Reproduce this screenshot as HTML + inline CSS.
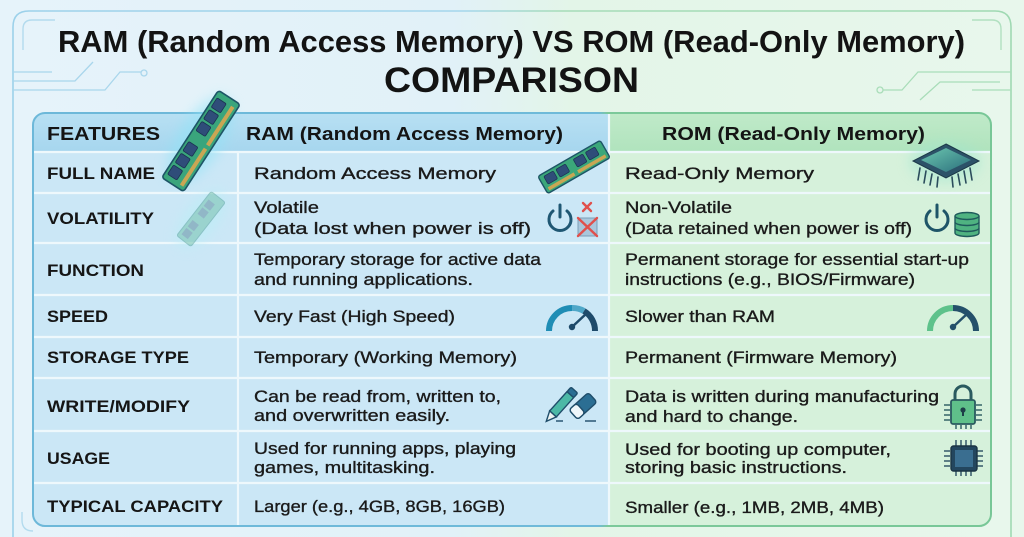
<!DOCTYPE html>
<html><head><meta charset="utf-8"><style>
html,body{margin:0;padding:0;background:#e3f2f6;width:1024px;height:537px;overflow:hidden;}
svg{display:block;}
.t{font-family:"Liberation Sans",Arial,sans-serif;}
.h{font-weight:700;fill:#131313;}
.b{font-size:17px;fill:#1a1a1a;stroke:#1a1a1a;stroke-width:0.35;}
.l{font-size:16.5px;font-weight:700;fill:#151515;}
.hd{font-size:18.5px;font-weight:700;fill:#141414;}
</style></head><body>
<svg width="1024" height="537" viewBox="0 0 1024 537" xmlns="http://www.w3.org/2000/svg" overflow="hidden">
<defs>
<linearGradient id="bg" x1="0" x2="1" y1="0" y2="0">
<stop offset="0" stop-color="#e6f3fa"/><stop offset="0.44" stop-color="#e1f1f8"/><stop offset="0.56" stop-color="#e3f5e8"/><stop offset="1" stop-color="#e8f7ec"/>
</linearGradient>
<linearGradient id="fr" x1="0" x2="1" y1="0" y2="0">
<stop offset="0" stop-color="#9cd1ea"/><stop offset="0.45" stop-color="#a4d6ec"/><stop offset="0.55" stop-color="#a6dcb8"/><stop offset="1" stop-color="#9fd9b2"/>
</linearGradient>
<linearGradient id="tb" x1="0" x2="1" y1="0" y2="0">
<stop offset="0" stop-color="#6db8d9"/><stop offset="0.59" stop-color="#6fbad9"/><stop offset="0.6" stop-color="#7cc99a"/><stop offset="1" stop-color="#78c797"/>
</linearGradient>
<linearGradient id="hb" x1="0" x2="0" y1="0" y2="1">
<stop offset="0" stop-color="#b8e0f3"/><stop offset="1" stop-color="#a6d6ee"/>
</linearGradient>
<linearGradient id="hg" x1="0" x2="0" y1="0" y2="1">
<stop offset="0" stop-color="#c0eac9"/><stop offset="1" stop-color="#b0e3bd"/>
</linearGradient>
<linearGradient id="chipg" x1="0" x2="1" y1="0" y2="1">
<stop offset="0" stop-color="#6cc7b0"/><stop offset="1" stop-color="#2b6f7c"/>
</linearGradient>
<filter id="blur" x="-50%" y="-50%" width="200%" height="200%"><feGaussianBlur stdDeviation="6"/></filter>
<clipPath id="tclip"><rect x="33" y="113" width="958" height="413" rx="12"/></clipPath>
</defs>

<!-- background -->
<rect width="1024" height="537" fill="url(#bg)"/>
<!-- outer frame -->
<path d="M13,537 V27 Q13,11 29,11 H995 Q1011,11 1011,27 V537" fill="none" stroke="url(#fr)" stroke-width="1.6"/>
<path d="M55,20 H32 Q23,20 23,29 V50" fill="none" stroke="#b3dbee" stroke-width="1.4"/>
<path d="M972,20 H992 Q1001,20 1001,29 V50" fill="none" stroke="#b1e0c0" stroke-width="1.4"/>
<path d="M22,512 V520 Q22,531 33,531" fill="none" stroke="#b3dbee" stroke-width="1.4"/>
<!-- circuit traces -->
<g fill="none" stroke="#a9d6ec" stroke-width="1.3">
<path d="M13,72 H52"/>
<path d="M13,81 H75 L93,62"/>
<path d="M13,90 H105 L120,72 H141"/>
<circle cx="144" cy="73" r="3"/>
</g>
<g fill="none" stroke="#a9ddb9" stroke-width="1.3">
<circle cx="880" cy="90" r="3"/>
<path d="M883,90 H902 L918,72 H1011"/>
<path d="M920,100 L940,82 H1000"/>
<path d="M972,90 H1011"/>
</g>

<!-- title -->
<text class="t h" x="58" y="52" font-size="31" textLength="907" lengthAdjust="spacingAndGlyphs">RAM (Random Access Memory) VS ROM (Read-Only Memory)</text>
<text class="t h" x="384" y="92" font-size="35" textLength="255" lengthAdjust="spacingAndGlyphs">COMPARISON</text>

<!-- table -->
<g clip-path="url(#tclip)">
<rect x="33" y="113" width="576" height="413" fill="#cbe7f6"/>
<rect x="609" y="113" width="382" height="413" fill="#d6f1db"/>
<rect x="33" y="113" width="576" height="39" fill="url(#hb)"/>
<rect x="609" y="113" width="382" height="39" fill="url(#hg)"/>
<g stroke="#eef8fc" stroke-width="2.2">
<line x1="33" y1="152" x2="991" y2="152"/>
<line x1="33" y1="193" x2="991" y2="193"/>
<line x1="33" y1="243" x2="991" y2="243"/>
<line x1="33" y1="295" x2="991" y2="295"/>
<line x1="33" y1="337" x2="991" y2="337"/>
<line x1="33" y1="378" x2="991" y2="378"/>
<line x1="33" y1="431" x2="991" y2="431"/>
<line x1="33" y1="483" x2="991" y2="483"/>
<line x1="238" y1="152" x2="238" y2="526"/>
<line x1="609" y1="113" x2="609" y2="526"/>
</g>
</g>
<rect x="33" y="113" width="958" height="413" rx="12" fill="none" stroke="url(#tb)" stroke-width="2"/>

<!-- header text -->
<text class="t hd" x="47" y="140" textLength="113" lengthAdjust="spacingAndGlyphs">FEATURES</text>
<text class="t hd" x="246" y="140" textLength="317" lengthAdjust="spacingAndGlyphs">RAM (Random Access Memory)</text>
<text class="t hd" x="662" y="140" textLength="263" lengthAdjust="spacingAndGlyphs">ROM (Read-Only Memory)</text>

<!-- labels -->
<g class="t l">
<text x="47" y="179" textLength="108" lengthAdjust="spacingAndGlyphs">FULL NAME</text>
<text x="47" y="224" textLength="107" lengthAdjust="spacingAndGlyphs">VOLATILITY</text>
<text x="47" y="276" textLength="97" lengthAdjust="spacingAndGlyphs">FUNCTION</text>
<text x="47" y="322" textLength="61" lengthAdjust="spacingAndGlyphs">SPEED</text>
<text x="47" y="363" textLength="142" lengthAdjust="spacingAndGlyphs">STORAGE TYPE</text>
<text x="47" y="412" textLength="143" lengthAdjust="spacingAndGlyphs">WRITE/MODIFY</text>
<text x="47" y="464" textLength="63" lengthAdjust="spacingAndGlyphs">USAGE</text>
<text x="47" y="512" textLength="176" lengthAdjust="spacingAndGlyphs">TYPICAL CAPACITY</text>
</g>

<!-- RAM column -->
<g class="t b">
<text x="254" y="179" textLength="242" lengthAdjust="spacingAndGlyphs">Random Access Memory</text>
<text x="254" y="213" textLength="65" lengthAdjust="spacingAndGlyphs">Volatile</text>
<text x="254" y="234" textLength="277" lengthAdjust="spacingAndGlyphs">(Data lost when power is off)</text>
<text x="254" y="265" textLength="287" lengthAdjust="spacingAndGlyphs">Temporary storage for active data</text>
<text x="254" y="285" textLength="219" lengthAdjust="spacingAndGlyphs">and running applications.</text>
<text x="254" y="322" textLength="201" lengthAdjust="spacingAndGlyphs">Very Fast (High Speed)</text>
<text x="254" y="363" textLength="263" lengthAdjust="spacingAndGlyphs">Temporary (Working Memory)</text>
<text x="254" y="402" textLength="247" lengthAdjust="spacingAndGlyphs">Can be read from, written to,</text>
<text x="254" y="421" textLength="196" lengthAdjust="spacingAndGlyphs">and overwritten easily.</text>
<text x="254" y="454" textLength="262" lengthAdjust="spacingAndGlyphs">Used for running apps, playing</text>
<text x="254" y="473" textLength="181" lengthAdjust="spacingAndGlyphs">games, multitasking.</text>
<text x="254" y="512" textLength="251" lengthAdjust="spacingAndGlyphs">Larger (e.g., 4GB, 8GB, 16GB)</text>
</g>

<!-- ROM column -->
<g class="t b">
<text x="625" y="179" textLength="189" lengthAdjust="spacingAndGlyphs">Read-Only Memory</text>
<text x="625" y="213" textLength="107" lengthAdjust="spacingAndGlyphs">Non-Volatile</text>
<text x="625" y="234" textLength="287" lengthAdjust="spacingAndGlyphs">(Data retained when power is off)</text>
<text x="625" y="265" textLength="344" lengthAdjust="spacingAndGlyphs">Permanent storage for essential start-up</text>
<text x="625" y="285" textLength="290" lengthAdjust="spacingAndGlyphs">instructions (e.g., BIOS/Firmware)</text>
<text x="625" y="322" textLength="150" lengthAdjust="spacingAndGlyphs">Slower than RAM</text>
<text x="625" y="363" textLength="272" lengthAdjust="spacingAndGlyphs">Permanent (Firmware Memory)</text>
<text x="625" y="402" textLength="314" lengthAdjust="spacingAndGlyphs">Data is written during manufacturing</text>
<text x="625" y="422" textLength="173" lengthAdjust="spacingAndGlyphs">and hard to change.</text>
<text x="625" y="455" textLength="266" lengthAdjust="spacingAndGlyphs">Used for booting up computer,</text>
<text x="625" y="473" textLength="222" lengthAdjust="spacingAndGlyphs">storing basic instructions.</text>
<text x="625" y="513" textLength="259" lengthAdjust="spacingAndGlyphs">Smaller (e.g., 1MB, 2MB, 4MB)</text>
</g>

<!-- Big RAM stick -->
<ellipse cx="200" cy="140" rx="22" ry="50" transform="rotate(33 200 140)" fill="#8fe3f7" opacity="0.55" filter="url(#blur)"/>
<g transform="translate(201,141) rotate(-57)">
<rect x="-52" y="-13" width="104" height="26" rx="3" fill="#3aa57c" stroke="#1d5566" stroke-width="1.6"/>
<g fill="#2f4d79" stroke="#1a3352" stroke-width="0.8">
<rect x="-46" y="-10" width="11" height="11" rx="1.5"/>
<rect x="-32" y="-10" width="11" height="11" rx="1.5"/>
<rect x="-18" y="-10" width="11" height="11" rx="1.5"/>
<rect x="6" y="-10" width="11" height="11" rx="1.5"/>
<rect x="20" y="-10" width="11" height="11" rx="1.5"/>
<rect x="34" y="-10" width="11" height="11" rx="1.5"/>
</g>
<rect x="-48" y="6" width="44" height="4" fill="#c9a654"/>
<rect x="0" y="6" width="46" height="4" fill="#c9a654"/>
</g>

<!-- small RAM stick in FULL NAME -->
<g transform="translate(574,167) rotate(-30)">
<rect x="-36" y="-10" width="72" height="20" rx="2.5" fill="#3ba77a" stroke="#1d5566" stroke-width="1.4"/>
<g fill="#2f4d79" stroke="#1a3352" stroke-width="0.7">
<rect x="-31" y="-7" width="11" height="9" rx="1.5"/>
<rect x="-17" y="-7" width="11" height="9" rx="1.5"/>
<rect x="3" y="-7" width="11" height="9" rx="1.5"/>
<rect x="17" y="-7" width="11" height="9" rx="1.5"/>
</g>
<rect x="-33" y="4.5" width="30" height="3.5" fill="#c9a654"/>
<rect x="1" y="4.5" width="32" height="3.5" fill="#c9a654"/>
</g>

<!-- faded RAM stick in VOLATILITY -->
<g transform="translate(201,219) rotate(-52)" opacity="0.6">
<ellipse rx="34" ry="16" fill="#b9eef6" filter="url(#blur)"/>
<rect x="-28" y="-9" width="56" height="18" rx="2" fill="#7ac7b4" stroke="#5ea8a3" stroke-width="1"/>
<g fill="#6b98a8">
<rect x="-24" y="-6" width="8" height="8"/><rect x="-14" y="-6" width="8" height="8"/>
<rect x="2" y="-6" width="8" height="8"/><rect x="12" y="-6" width="8" height="8"/>
</g>
</g>

<!-- power + crossed DB (RAM) -->
<g fill="none" stroke="#1f5773" stroke-width="3" stroke-linecap="round">
<path d="M553,211 A11,11 0 1 0 567,211"/>
<line x1="560" y1="205" x2="560" y2="217"/>
</g>
<rect x="578" y="218" width="19" height="18" rx="2" fill="#a9c7dc" stroke="#7c9fb8" stroke-width="1"/>
<g stroke="#e0504c" stroke-width="2.4" stroke-linecap="round">
<line x1="583" y1="203" x2="591" y2="211"/><line x1="591" y1="203" x2="583" y2="211"/>
<line x1="578" y1="218" x2="597" y2="236"/><line x1="597" y1="218" x2="578" y2="236"/>
</g>

<!-- ROM chip -->
<ellipse cx="945" cy="162" rx="36" ry="20" fill="#9fe6cf" opacity="0.5" filter="url(#blur)"/>
<g stroke="#2b4c5c" stroke-width="1.6" stroke-linecap="round">
<line x1="920" y1="168" x2="918" y2="180"/><line x1="926" y1="171" x2="924" y2="183"/><line x1="932" y1="174" x2="930" y2="185"/><line x1="938" y1="177" x2="937" y2="187"/>
<line x1="952" y1="177" x2="953" y2="187"/><line x1="958" y1="174" x2="960" y2="185"/><line x1="964" y1="171" x2="966" y2="183"/><line x1="970" y1="168" x2="972" y2="180"/>
</g>
<polygon points="946,144 979,161 946,178 913,161" fill="#2c5268" stroke="#1c3848" stroke-width="1"/>
<polygon points="946,148 971,160 946,172 921,160" fill="url(#chipg)"/>

<!-- power + green DB (ROM) -->
<g fill="none" stroke="#1f5568" stroke-width="3" stroke-linecap="round">
<path d="M930,211 A11,11 0 1 0 944,211"/>
<line x1="937" y1="205" x2="937" y2="217"/>
</g>
<g fill="#4fb381" stroke="#1f5a5c" stroke-width="1.4">
<path d="M955,228 v5 a12,3.5 0 0 0 24,0 v-5"/>
<path d="M955,222 v6 a12,3.5 0 0 0 24,0 v-6"/>
<path d="M955,216 v6 a12,3.5 0 0 0 24,0 v-6"/>
<ellipse cx="967" cy="216" rx="12" ry="3.5"/>
</g>

<!-- speedometers -->
<g fill="none" stroke-width="6">
<path d="M549,331 A23,23 0 0 1 572,308" stroke="#1f8db5"/>
<path d="M572,308 A23,23 0 0 1 584,311" stroke="#4fa7c8"/>
<path d="M584,311 A23,23 0 0 1 595,331" stroke="#1e4a6a"/>
</g>
<line x1="572" y1="327" x2="587" y2="313" stroke="#1e4a6a" stroke-width="2.5" stroke-linecap="round"/>
<circle cx="572" cy="327" r="3.2" fill="#1e4a6a"/>
<g fill="none" stroke-width="6">
<path d="M930,331 A23,23 0 0 1 953,308" stroke="#5ec28b"/>
<path d="M953,308 A23,23 0 0 1 976,331" stroke="#24506a"/>
</g>
<line x1="953" y1="327" x2="968" y2="313" stroke="#24506a" stroke-width="2.5" stroke-linecap="round"/>
<circle cx="953" cy="327" r="3.2" fill="#24506a"/>

<!-- pencil & eraser -->
<g transform="translate(561,405) rotate(-48)">
<rect x="-12" y="-4.5" width="26" height="9" fill="#4cb8a6" stroke="#1f4d6a" stroke-width="1.4"/>
<rect x="14" y="-4.5" width="6" height="9" rx="1.5" fill="#2b6e93" stroke="#1f4d6a" stroke-width="1.4"/>
<polygon points="-12,-4.5 -22,0 -12,4.5" fill="#eef4f2" stroke="#1f4d6a" stroke-width="1.4"/>
</g>
<g transform="translate(583,406) rotate(-42)">
<rect x="-13" y="-6.5" width="26" height="13" rx="3" fill="#2b6e93" stroke="#1f4d6a" stroke-width="1.4"/>
<rect x="-13" y="-6.5" width="10" height="13" rx="3" fill="#eef6fa" stroke="#1f4d6a" stroke-width="1.4"/>
</g>
<g stroke="#1f4d6a" stroke-width="1.4"><line x1="556" y1="421" x2="563" y2="421"/><line x1="585" y1="421" x2="596" y2="421"/></g>

<!-- lock chip -->
<g stroke="#2a5a5f" stroke-width="1.4">
<line x1="944" y1="405" x2="950" y2="405"/><line x1="944" y1="410" x2="950" y2="410"/><line x1="944" y1="415" x2="950" y2="415"/><line x1="944" y1="420" x2="950" y2="420"/>
<line x1="976" y1="405" x2="982" y2="405"/><line x1="976" y1="410" x2="982" y2="410"/><line x1="976" y1="415" x2="982" y2="415"/><line x1="976" y1="420" x2="982" y2="420"/>
<line x1="956" y1="425" x2="956" y2="429"/><line x1="961" y1="425" x2="961" y2="429"/><line x1="966" y1="425" x2="966" y2="429"/><line x1="971" y1="425" x2="971" y2="429"/>
</g>
<path d="M955,400 V394 A8,8 0 0 1 971,394 V400" fill="none" stroke="#2a5a5f" stroke-width="3"/>
<rect x="951" y="400" width="24" height="24" rx="2" fill="#5fc08a" stroke="#2a5a5f" stroke-width="1.8"/>
<circle cx="963" cy="410" r="2.6" fill="#1d3f48"/><rect x="962" y="410" width="2" height="6" fill="#1d3f48"/>

<!-- cpu chip -->
<g stroke="#2a4f63" stroke-width="1.4">
<line x1="944" y1="451" x2="950" y2="451"/><line x1="944" y1="456" x2="950" y2="456"/><line x1="944" y1="461" x2="950" y2="461"/><line x1="944" y1="466" x2="950" y2="466"/>
<line x1="977" y1="451" x2="983" y2="451"/><line x1="977" y1="456" x2="983" y2="456"/><line x1="977" y1="461" x2="983" y2="461"/><line x1="977" y1="466" x2="983" y2="466"/>
<line x1="956" y1="440" x2="956" y2="446"/><line x1="961" y1="440" x2="961" y2="446"/><line x1="966" y1="440" x2="966" y2="446"/><line x1="971" y1="440" x2="971" y2="446"/>
<line x1="956" y1="471" x2="956" y2="476"/><line x1="961" y1="471" x2="961" y2="476"/><line x1="966" y1="471" x2="966" y2="476"/><line x1="971" y1="471" x2="971" y2="476"/>
</g>
<rect x="951" y="446" width="26" height="25" rx="2.5" fill="#23465e" stroke="#1b3444" stroke-width="1.4"/>
<rect x="955" y="450" width="18" height="17" fill="#3a6e90"/>
</svg>
</body></html>
